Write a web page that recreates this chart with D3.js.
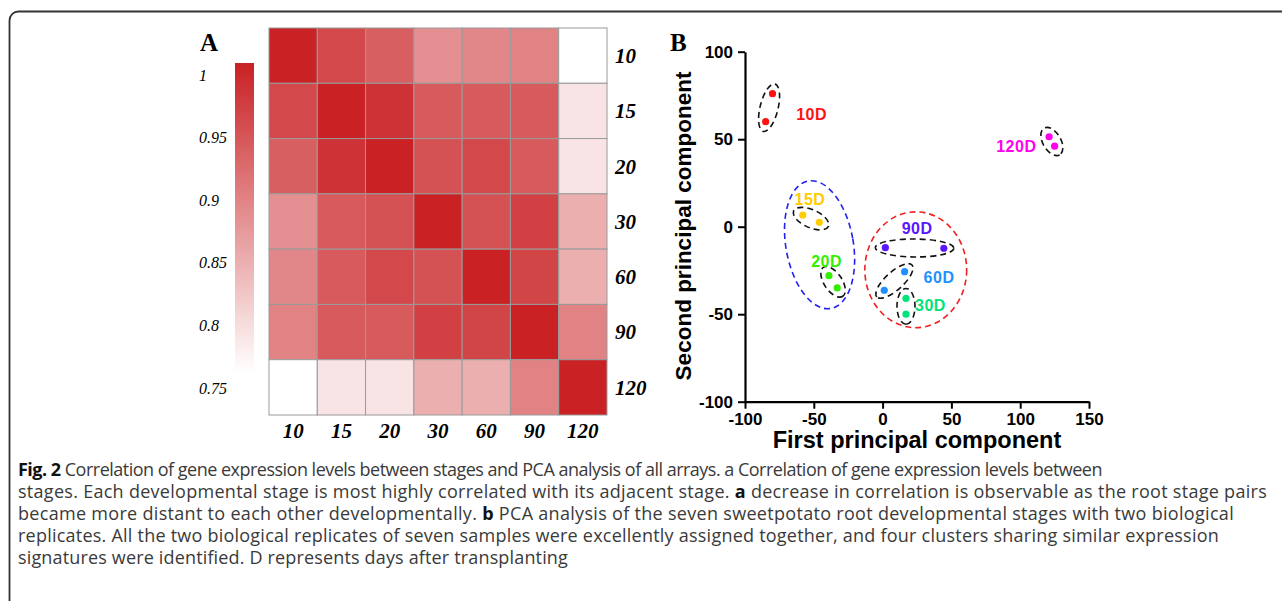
<!DOCTYPE html>
<html>
<head>
<meta charset="utf-8">
<script src="https://cdn.jsdelivr.net/npm/d3@7"></script>
<style>
  body { margin: 0; background: #fff; }
  svg { display: block; }
</style>
</head>
<body>
<div id="fig"></div>
<script>
// ---- data: panel A (correlation between stages) ----
const stages = ["10", "15", "20", "30", "60", "90", "120"];
const corr = [
  [1.000, 0.955, 0.930, 0.875, 0.885, 0.890, 0.750],
  [0.955, 1.000, 0.980, 0.935, 0.935, 0.935, 0.780],
  [0.930, 0.980, 1.000, 0.945, 0.955, 0.935, 0.780],
  [0.875, 0.935, 0.945, 1.000, 0.945, 0.965, 0.840],
  [0.885, 0.935, 0.955, 0.945, 1.000, 0.960, 0.840],
  [0.890, 0.935, 0.935, 0.965, 0.960, 1.000, 0.890],
  [0.750, 0.780, 0.780, 0.840, 0.840, 0.890, 1.000]
];
const legendTicks = [1, 0.95, 0.9, 0.85, 0.8, 0.75];

// ---- data: panel B (PCA) ----
const pcaGroups = ["10D", "15D", "20D", "90D", "60D", "30D", "120D"];
const pcaColors = ["#ff1111", "#ffcc00", "#33ee00", "#5a16ff", "#1e90ff", "#00e47a", "#ff00ee"];
const pcaPoints = [
  [[-85, 60], [-80, 76]],
  [[-58, 6.7], [-46, 2.5]],
  [[-39, -28], [-33, -35]],
  [[2, -12], [44.5, -12.3]],
  [[16, -25.7], [1.2, -36.3]],
  [[17, -41], [17, -50]],
  [[121, 51.4], [125, 46]]
];
const pcaLabelPos = [[-51.6, 64.4], [-52.8, 15.7], [-40.7, -20], [25.1, -0.9], [41, -29.1], [34.8, -44.7], [97.2, 45.7]];
// cluster outlines: centre x, centre y, radius x, radius y (data units), tilt in degrees
const clusterEllipses = [
  { color: "#2222ee", cx: -45.8, cy: -10.3, rx: 24.5, ry: 37, tilt: -10 },
  { color: "#ee2222", cx: 24.1, cy: -24.6, rx: 37, ry: 33.1, tilt: 0 }
];
const pcaXTicks = [-100, -50, 0, 50, 100, 150];
const pcaYTicks = [-100, -50, 0, 50, 100];

const captionLines = [
  [["Fig. 2", true], [" Correlation of gene expression levels between stages and PCA analysis of all arrays. a Correlation of gene expression levels between", false]],
  [["stages. Each developmental stage is most highly correlated with its adjacent stage. ", false], ["a", true], [" decrease in correlation is observable as the root stage pairs", false]],
  [["became more distant to each other developmentally. ", false], ["b", true], [" PCA analysis of the seven sweetpotato root developmental stages with two biological", false]],
  [["replicates. All the two biological replicates of seven samples were excellently assigned together, and four clusters sharing similar expression", false]],
  [["signatures were identified. D represents days after transplanting", false]]
];

(function() {
  const W = 1282, H = 601;
  const svg = d3.select("#fig").append("svg")
    .attr("width", W).attr("height", H);

  // outer frame
  svg.append("rect")
    .attr("x", 9.5).attr("y", 11.5)
    .attr("width", 1320).attr("height", 640)
    .attr("rx", 9)
    .attr("fill", "none")
    .attr("stroke", "#333")
    .attr("stroke-width", 1.8);

  const serif = "'Liberation Serif', 'Times New Roman', serif";
  const sans = "'Liberation Sans', Arial, sans-serif";

  // ================= Panel A: heatmap =================
  const hm = { left: 269, top: 28, right: 607, bottom: 415 };
  const x = d3.scaleBand().domain(stages).range([hm.left, hm.right]);
  const y = d3.scaleBand().domain(stages).range([hm.top, hm.bottom]);
  const color = d3.scaleLinear().domain([0.75, 1]).range(["#ffffff", "#c92124"]).clamp(true);

  const cells = [];
  corr.forEach((row, i) => row.forEach((v, j) => cells.push({ r: stages[i], c: stages[j], v })));

  svg.append("g").selectAll("rect")
    .data(cells)
    .enter().append("rect")
    .attr("x", d => x(d.c))
    .attr("y", d => y(d.r))
    .attr("width", x.bandwidth())
    .attr("height", y.bandwidth())
    .attr("fill", d => color(d.v))
    .attr("stroke", "#9a9a9a")
    .attr("stroke-width", 1);

  // column labels
  svg.append("g").selectAll("text")
    .data(stages)
    .enter().append("text")
    .attr("x", d => x(d) + x.bandwidth() / 2)
    .attr("y", 438)
    .attr("text-anchor", "middle")
    .style("font-family", serif)
    .style("font-style", "italic")
    .style("font-weight", "bold")
    .style("font-size", "21px")
    .text(d => d);

  // row labels
  svg.append("g").selectAll("text")
    .data(stages)
    .enter().append("text")
    .attr("x", 615)
    .attr("y", d => y(d) + y.bandwidth() / 2)
    .attr("dy", "0.35em")
    .style("font-family", serif)
    .style("font-style", "italic")
    .style("font-weight", "bold")
    .style("font-size", "21px")
    .text(d => d);

  // colour legend
  const legendY = d3.scaleLinear().domain([0.75, 1]).range([388, 75]);
  const defs = svg.append("defs");
  const grad = defs.append("linearGradient")
    .attr("id", "corr-gradient")
    .attr("x1", "0%").attr("y1", "0%").attr("x2", "0%").attr("y2", "100%");
  d3.range(0, 11).forEach(k => {
    const t = k / 10;
    grad.append("stop")
      .attr("offset", `${t * 100}%`)
      .attr("stop-color", color(1 - t * 0.25));
  });
  svg.append("rect")
    .attr("x", 235).attr("y", 63)
    .attr("width", 19).attr("height", 310)
    .attr("fill", "url(#corr-gradient)");

  svg.append("g").selectAll("text")
    .data(legendTicks)
    .enter().append("text")
    .attr("x", 199)
    .attr("y", d => legendY(d))
    .attr("dy", "0.35em")
    .style("font-family", serif)
    .style("font-style", "italic")
    .style("font-size", "16px")
    .text(d => d);

  svg.append("text")
    .attr("x", 200).attr("y", 51)
    .style("font-family", serif)
    .style("font-weight", "bold")
    .style("font-size", "25px")
    .text("A");

  // ================= Panel B: PCA =================
  const px = d3.scaleLinear().domain([-100, 150]).range([745, 1089]);
  const py = d3.scaleLinear().domain([-100, 100]).range([401.7, 51.7]);
  const kx = px(1) - px(0), ky = py(0) - py(1);

  const xAxis = svg.append("g")
    .attr("transform", `translate(0, ${py(-100)})`)
    .call(d3.axisBottom(px).tickValues(pcaXTicks).tickFormat(d => String(d))
      .tickSize(7).tickPadding(4).tickSizeOuter(0));
  const yAxis = svg.append("g")
    .attr("transform", `translate(${px(-100)}, 0)`)
    .call(d3.axisLeft(py).tickValues(pcaYTicks).tickFormat(d => String(d))
      .tickSize(7).tickPadding(5).tickSizeOuter(0));
  [xAxis, yAxis].forEach(g => {
    g.select(".domain").attr("stroke", "#000").attr("stroke-width", 2.2);
    g.selectAll(".tick line").attr("stroke", "#000").attr("stroke-width", 2);
    g.selectAll(".tick text")
      .attr("fill", "#000")
      .style("font-family", sans)
      .style("font-weight", "bold")
      .style("font-size", "17px");
  });

  svg.append("text")
    .attr("x", 917).attr("y", 448)
    .attr("text-anchor", "middle")
    .style("font-family", sans)
    .style("font-weight", "bold")
    .style("font-size", "23.5px")
    .text("First principal component");

  svg.append("text")
    .attr("transform", `translate(691, 226) rotate(-90)`)
    .attr("text-anchor", "middle")
    .style("font-family", sans)
    .style("font-weight", "bold")
    .style("font-size", "22.5px")
    .text("Second principal component");

  svg.append("text")
    .attr("x", 670).attr("y", 51)
    .style("font-family", serif)
    .style("font-weight", "bold")
    .style("font-size", "25px")
    .text("B");

  // large cluster outlines
  svg.append("g").selectAll("ellipse")
    .data(clusterEllipses)
    .enter().append("ellipse")
    .attr("transform", d => `translate(${px(d.cx)}, ${py(d.cy)}) rotate(${d.tilt})`)
    .attr("rx", d => d.rx * kx)
    .attr("ry", d => d.ry * ky)
    .attr("fill", "none")
    .attr("stroke", d => d.color)
    .attr("stroke-width", 1.6)
    .attr("stroke-dasharray", "6,4");

  // replicate pair outlines
  const pairs = pcaPoints.map(pts => {
    const a = [px(pts[0][0]), py(pts[0][1])], b = [px(pts[1][0]), py(pts[1][1])];
    const dx = b[0] - a[0], dy = b[1] - a[1];
    return {
      cx: (a[0] + b[0]) / 2, cy: (a[1] + b[1]) / 2,
      half: Math.hypot(dx, dy) / 2,
      angle: Math.atan2(dy, dx) * 180 / Math.PI
    };
  });
  svg.append("g").selectAll("ellipse")
    .data(pairs)
    .enter().append("ellipse")
    .attr("transform", d => `translate(${d.cx}, ${d.cy}) rotate(${d.angle})`)
    .attr("rx", d => d.half + 10)
    .attr("ry", 9)
    .attr("fill", "none")
    .attr("stroke", "#111")
    .attr("stroke-width", 1.6)
    .attr("stroke-dasharray", "6,4");

  // points
  const flat = [];
  pcaPoints.forEach((pts, i) => pts.forEach(p => flat.push({ p, c: pcaColors[i] })));
  svg.append("g").selectAll("circle")
    .data(flat)
    .enter().append("circle")
    .attr("cx", d => px(d.p[0]))
    .attr("cy", d => py(d.p[1]))
    .attr("r", 3.6)
    .attr("fill", d => d.c);

  // group labels
  svg.append("g").selectAll("text")
    .data(pcaGroups)
    .enter().append("text")
    .attr("x", (d, i) => px(pcaLabelPos[i][0]))
    .attr("y", (d, i) => py(pcaLabelPos[i][1]))
    .attr("dy", "0.35em")
    .attr("text-anchor", "middle")
    .attr("fill", (d, i) => pcaColors[i])
    .style("font-family", sans)
    .style("font-weight", "bold")
    .style("font-size", "16px")
    .style("letter-spacing", "0.5px")
    .text(d => d);

  // ================= caption =================
  // right edge that each caption line reaches in the figure
  const captionEnds = [1102, 1267, 1234, 1219, 568];
  const capLeft = 18;
  const cap = svg.append("g")
    .style("font-family", "'Open Sans', 'Noto Sans', sans-serif")
    .style("font-size", "18px")
    .attr("fill", "#333");
  captionLines.forEach((parts, i) => {
    const t = cap.append("text").attr("x", capLeft).attr("y", 476 + i * 22);
    parts.forEach(([s, bold]) => {
      t.append("tspan")
        .attr("fill", bold ? "#111" : "#3a3a3a")
        .style("font-weight", bold ? "bold" : "normal")
        .text(s);
    });
    const len = t.node().getComputedTextLength();
    const n = parts.reduce((acc, p) => acc + p[0].length, 0);
    t.style("letter-spacing", `${(captionEnds[i] - capLeft - len) / n}px`);
  });
})();
</script>
</body>
</html>
